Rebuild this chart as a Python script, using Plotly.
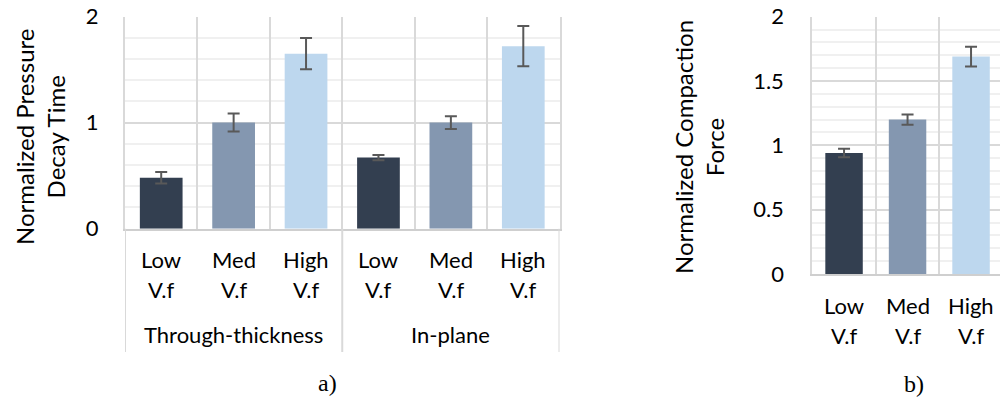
import plotly.graph_objects as go

# ---------------- data ----------------
levels = ["Low", "Med", "High"]
level_line2 = ["V.f", "V.f", "V.f"]
groups_a = ["Through-thickness", "In-plane"]
pressure_tt = [0.48, 1.00, 1.65]
pressure_tt_err = [0.055, 0.085, 0.148]
pressure_ip = [0.67, 1.00, 1.72]
pressure_ip_err = [0.025, 0.06, 0.19]
force = [0.94, 1.20, 1.69]
force_err = [0.033, 0.039, 0.077]
colors = ["#333F50", "#8497B0", "#BDD7EE"]
y_ticks_a = [0, 1, 2]
y_ticks_b = [0, 0.5, 1, 1.5, 2]

FONT = "Lato"
LBL = 22
TTL = 24
W, H = 1000, 399

def py(px):
    return 1 - px / H

# ---------------- geometry ----------------
xa_dom = [125 / W, 559.5 / W]
ya_dom = [py(228.7), py(16.5)]
xb_dom = [812.3 / W, 1.0]
yb_dom = [py(274), py(16.7)]

fig = go.Figure()

# chart a
cats_a = [f"{g}|{l}" for g in groups_a for l in levels]
vals_a = pressure_tt + pressure_ip
errs_a = pressure_tt_err + pressure_ip_err
fig.add_trace(go.Bar(
    x=cats_a, y=vals_a, xaxis="x", yaxis="y",
    marker=dict(color=colors * len(groups_a), line=dict(width=0)),
    error_y=dict(type="data", array=errs_a, color="#595959", thickness=2, width=6),
    showlegend=False,
))

# chart b
cats_b = list(levels)
fig.add_trace(go.Bar(
    x=cats_b, y=force, xaxis="x2", yaxis="y2",
    marker=dict(color=colors, line=dict(width=0)),
    error_y=dict(type="data", array=force_err, color="#595959", thickness=2, width=6),
    showlegend=False,
))

grid = "#d9d9d9"
minor_grid = "#f0f0f0"

common_x = dict(type="category", tickson="boundaries", showgrid=True, gridcolor=grid,
                gridwidth=2, showticklabels=False, ticks="", showline=True,
                linecolor="#cfcfcf", linewidth=2, zeroline=False, fixedrange=True,
                automargin=False)

fig.update_layout(
    width=W, height=H,
    margin=dict(l=0, r=0, t=0, b=0, pad=0, autoexpand=False),
    paper_bgcolor="white", plot_bgcolor="white",
    bargap=0.41,
    hovermode=False,
    font=dict(family=FONT, size=LBL, color="#000000"),
    xaxis=dict(domain=xa_dom, anchor="y", range=[-0.5, len(cats_a) - 0.5], **common_x),
    yaxis=dict(domain=ya_dom, anchor="x", range=[0, 2], tickvals=y_ticks_a,
               showgrid=True, gridcolor=grid, gridwidth=2,
               minor=dict(dtick=0.2, showgrid=True, gridcolor=minor_grid, gridwidth=2),
               showline=True, linecolor=grid, linewidth=2, mirror=True,
               zeroline=False, ticks="", ticklabelstandoff=20, automargin=False,
               fixedrange=True, tickfont=dict(size=LBL)),
    xaxis2=dict(domain=xb_dom, anchor="y2", range=[-0.5, 2.456], **common_x),
    yaxis2=dict(domain=yb_dom, anchor="x2", range=[0, 2], tickvals=y_ticks_b,
                ticktext=[f"{v:g}" for v in y_ticks_b],
                showgrid=True, gridcolor=grid, gridwidth=2,
                minor=dict(dtick=0.1, showgrid=True, gridcolor=minor_grid, gridwidth=2),
                showline=True, linecolor=grid, linewidth=2,
                zeroline=False, ticks="", ticklabelstandoff=22, automargin=False,
                fixedrange=True, tickfont=dict(size=LBL)),
)

ann = []
# category labels, chart a
for c, lvl, l2 in zip(cats_a, levels * len(groups_a), level_line2 * len(groups_a)):
    ann.append(dict(x=c, xref="x", y=py(259), yref="paper", text=lvl, showarrow=False,
                    yanchor="middle", font=dict(size=LBL)))
    ann.append(dict(x=c, xref="x", y=py(289), yref="paper", text=l2, showarrow=False,
                    yanchor="middle", font=dict(size=LBL)))
# group labels, chart a
for gi, g in enumerate(groups_a):
    center = gi * len(levels) + (len(levels) - 1) / 2
    ann.append(dict(x=center, xref="x", y=py(334), yref="paper", text=g, showarrow=False,
                    yanchor="middle", font=dict(size=LBL)))
# category labels, chart b
for c, lvl, l2 in zip(cats_b, levels, level_line2):
    ann.append(dict(x=c, xref="x2", y=py(305), yref="paper", text=lvl, showarrow=False,
                    yanchor="middle", font=dict(size=LBL)))
    ann.append(dict(x=c, xref="x2", y=py(335), yref="paper", text=l2, showarrow=False,
                    yanchor="middle", font=dict(size=LBL)))
# axis titles
ann.append(dict(x=40 / W, xref="paper", y=py(137), yref="paper",
                text="Normalized Pressure<br>Decay Time", textangle=-90, showarrow=False,
                xanchor="center", yanchor="middle", font=dict(size=TTL)))
ann.append(dict(x=699 / W, xref="paper", y=py(147), yref="paper",
                text="Normalized Compaction<br>Force", textangle=-90, showarrow=False,
                xanchor="center", yanchor="middle", font=dict(size=TTL)))
# panel letters
ann.append(dict(x=327.5 / W, xref="paper", y=py(383), yref="paper", text="a)",
                showarrow=False, xanchor="center", yanchor="middle",
                font=dict(family="Liberation Serif", size=24)))
ann.append(dict(x=914 / W, xref="paper", y=py(384), yref="paper", text="b)",
                showarrow=False, xanchor="center", yanchor="middle",
                font=dict(family="Liberation Serif", size=24)))
fig.update_layout(annotations=ann)

# group dividers below chart a
shapes = []
n_per = len(levels)
for b in range(len(groups_a) + 1):
    xb = b * n_per - 0.5
    shapes.append(dict(type="line", xref="x", yref="paper", x0=xb, x1=xb,
                       y0=ya_dom[0], y1=py(352), line=dict(color=grid, width=2)))
fig.update_layout(shapes=shapes)

fig.write_html(
    "out.html",
    config={"displayModeBar": False, "staticPlot": True},
    post_script="document.body.style.margin='0px';document.body.style.overflow='hidden';",
)
